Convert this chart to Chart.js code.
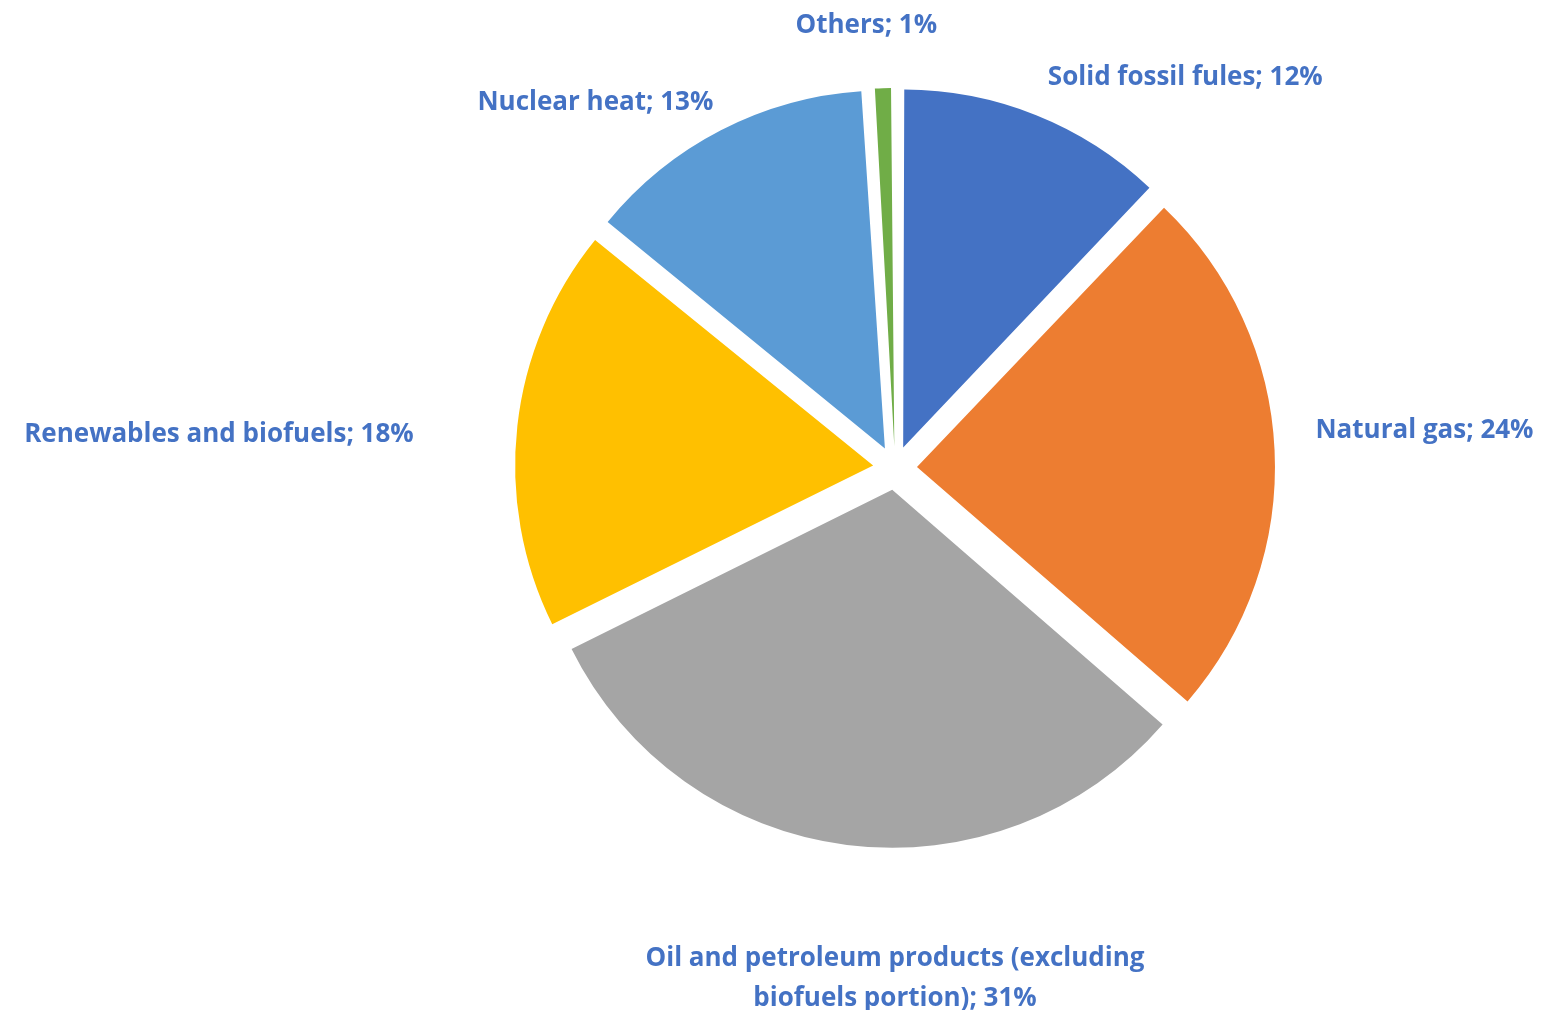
<!DOCTYPE html>
<html>
<head>
<meta charset="utf-8">
<script src="https://cdn.jsdelivr.net/npm/chart.js@4/dist/chart.umd.min.js"></script>
<style>
    html, body { margin: 0; padding: 0; background: #fff; }
    #wrap { width: 1543px; height: 1010px; position: relative; }
</style>
</head>
<body>
<div id="wrap"><canvas id="chart-energy"></canvas></div>
<script>
// ── Datos ──
const categories = [
    'Solid fossil fules',
    'Natural gas',
    ['Oil and petroleum products (excluding', 'biofuels portion)'],
    'Renewables and biofuels',
    'Nuclear heat',
    'Others'
];
const shares = [12, 24, 31, 18, 13, 1];
const sliceColors = ['#4472C4', '#ED7D31', '#A5A5A5', '#FFC000', '#5B9BD5', '#70AD47'];

// posición de cada etiqueta: ángulo (grados, horario desde arriba) y distancia al centro
const labelSpots = [
    { ang: 36.5, dist: 488 },
    { ang: 85.7, dist: 531 },
    { ang: 180, dist: 509 },
    { ang: 273.0, dist: 677 },
    { ang: 320.8, dist: 474 },
    { ang: 356.3, dist: 445 }
];

const PIE_RADIUS = 358;
const SLICE_OFFSET = 88;   // ArcElement desplaza offset/4 px
const LABEL_FONT = 'bold 26px "Open Sans", "Liberation Sans", sans-serif';
const LABEL_COLOR = '#4472C4';
const LINE_H = 40;
const TEXT_NUDGE = 2;      // Open Sans queda un poco alta con baseline 'middle'

// Chart.js agranda los arcos estrechos al desplazarlos; se compensa para
// que todas las porciones tengan el mismo radio
const evenRadius = {
    id: 'evenRadius',
    afterDatasetUpdate(chart, args) {
        const push = SLICE_OFFSET / 4;
        chart.getDatasetMeta(args.index).data.forEach(arc => {
            const circ = arc.endAngle - arc.startAngle;
            const fix = 1 - Math.sin(Math.min(Math.PI, circ));
            arc.outerRadius = PIE_RADIUS - push * fix;
        });
    }
};

// Etiquetas "Nombre; NN%" fuera del pastel
const outsideLabels = {
    id: 'outsideLabels',
    afterDatasetsDraw(chart) {
        const meta = chart.getDatasetMeta(0);
        if (!meta.data.length) return;
        const { x: cx, y: cy } = meta.data[0];
        const ctx = chart.ctx;
        ctx.save();
        ctx.font = LABEL_FONT;
        ctx.fillStyle = LABEL_COLOR;
        ctx.textAlign = 'center';
        ctx.textBaseline = 'middle';
        categories.forEach((cat, i) => {
            const lines = Array.isArray(cat) ? cat.slice() : [cat];
            lines[lines.length - 1] += '; ' + shares[i] + '%';
            const a = labelSpots[i].ang * Math.PI / 180;
            const px = cx + labelSpots[i].dist * Math.sin(a);
            const py = cy - labelSpots[i].dist * Math.cos(a) + TEXT_NUDGE;
            const top = py - (lines.length - 1) * LINE_H / 2;
            lines.forEach((ln, k) => ctx.fillText(ln, px, top + k * LINE_H));
        });
        ctx.restore();
    }
};

new Chart(document.getElementById('chart-energy'), {
    type: 'pie',
    data: {
        labels: categories,
        datasets: [{
            data: shares,
            backgroundColor: sliceColors,
            borderWidth: 0,
            offset: SLICE_OFFSET,
            hoverOffset: 0
        }]
    },
    options: {
        responsive: true,
        maintainAspectRatio: false,
        animation: false,
        radius: PIE_RADIUS,
        layout: { padding: { left: 247, right: 0, top: 0, bottom: 74 } },
        plugins: {
            legend: { display: false },
            tooltip: { enabled: false }
        },
        events: []
    },
    plugins: [evenRadius, outsideLabels]
});
</script>
</body>
</html>
